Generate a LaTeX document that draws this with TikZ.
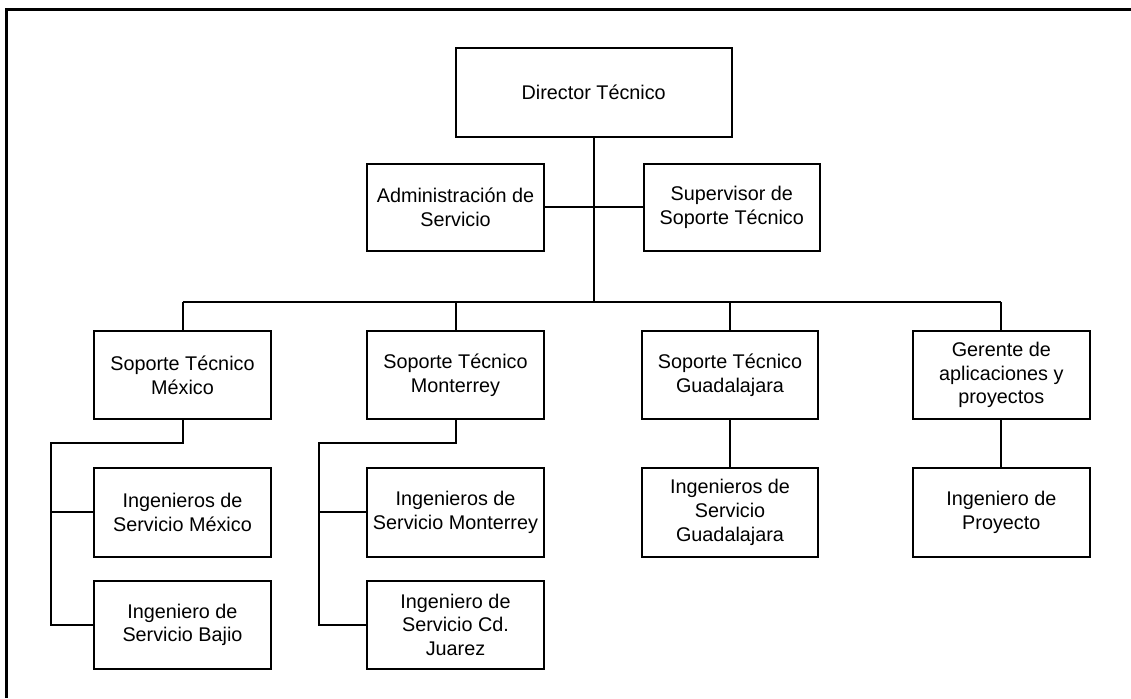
\documentclass[tikz,border=0pt]{standalone}
\usepackage{fontspec}
\setmainfont{Liberation Sans}
\begin{document}
\begin{tikzpicture}[x=1pt,y=-1pt,
  orgbox/.style={draw,line width=2pt,align=center,inner sep=0pt,
    minimum width=176.5pt,minimum height=88.5pt,
    font=\fontsize{19.8}{23.8}\selectfont},
  link/.style={line width=2pt}]
  \useasboundingbox (0,0) rectangle (1131,698);
  % open frame along the top and left edges
  \draw[line width=3pt] (6,698) -- (6,10) -- (1131,10);

  % top level
  \node[orgbox,minimum width=276pt,minimum height=89.6pt] (dir) at (593.7,92.5) {Director Técnico};
  \node[orgbox,minimum height=86.7pt] (adm) at (455.5,207.3) {Administración de\\Servicio};
  \node[orgbox,minimum height=86.7pt] (sup) at (731.8,207.3) {Supervisor de\\Soporte Técnico};

  % regional level
  \node[orgbox] (mx) at (182.5,375) {Soporte Técnico\\México};
  \node[orgbox] (mt) at (455.5,375) {Soporte Técnico\\Monterrey};
  \node[orgbox] (gd) at (730,375) {Soporte Técnico\\Guadalajara};
  \node[orgbox] (gp) at (1001.3,375) {Gerente de\\aplicaciones y\\proyectos};

  % engineers
  \node[orgbox] (imx) at (182.5,512.3) {Ingenieros de\\Servicio México};
  \node[orgbox] (ibj) at (182.5,624.8) {Ingeniero de\\Servicio Bajio};
  \node[orgbox] (imt) at (455.5,512.3) {Ingenieros de\\Servicio Monterrey};
  \node[orgbox] (icj) at (455.5,624.8) {Ingeniero de\\Servicio Cd.\\Juarez};
  \node[orgbox] (igd) at (730,512.3) {Ingenieros de\\Servicio\\Guadalajara};
  \node[orgbox] (ipy) at (1001.3,512.3) {Ingeniero de\\Proyecto};

  % helper coordinates for the bus and the side rails
  \coordinate (bus) at (593.7,301.7);
  \coordinate (mxrail) at (51,443.3);
  \coordinate (mtrail) at (319.3,443.3);

  % connectors
  \draw[link] (dir.south) -- (bus);
  \draw[link] (adm.east) -- (sup.west);
  \draw[link] (mx.north |- bus) -- (gp.north |- bus);
  \foreach \n in {mx,mt,gd,gp} \draw[link] (\n.north) -- (\n.north |- bus);

  \draw[link] (mx.south) -- (mx.south |- mxrail) -- (mxrail) -- (mxrail |- ibj.west) -- (ibj.west);
  \draw[link] (mxrail |- imx.west) -- (imx.west);
  \draw[link] (mt.south) -- (mt.south |- mtrail) -- (mtrail) -- (mtrail |- icj.west) -- (icj.west);
  \draw[link] (mtrail |- imt.west) -- (imt.west);
  \draw[link] (gd.south) -- (igd.north);
  \draw[link] (gp.south) -- (ipy.north);
\end{tikzpicture}
\end{document}
